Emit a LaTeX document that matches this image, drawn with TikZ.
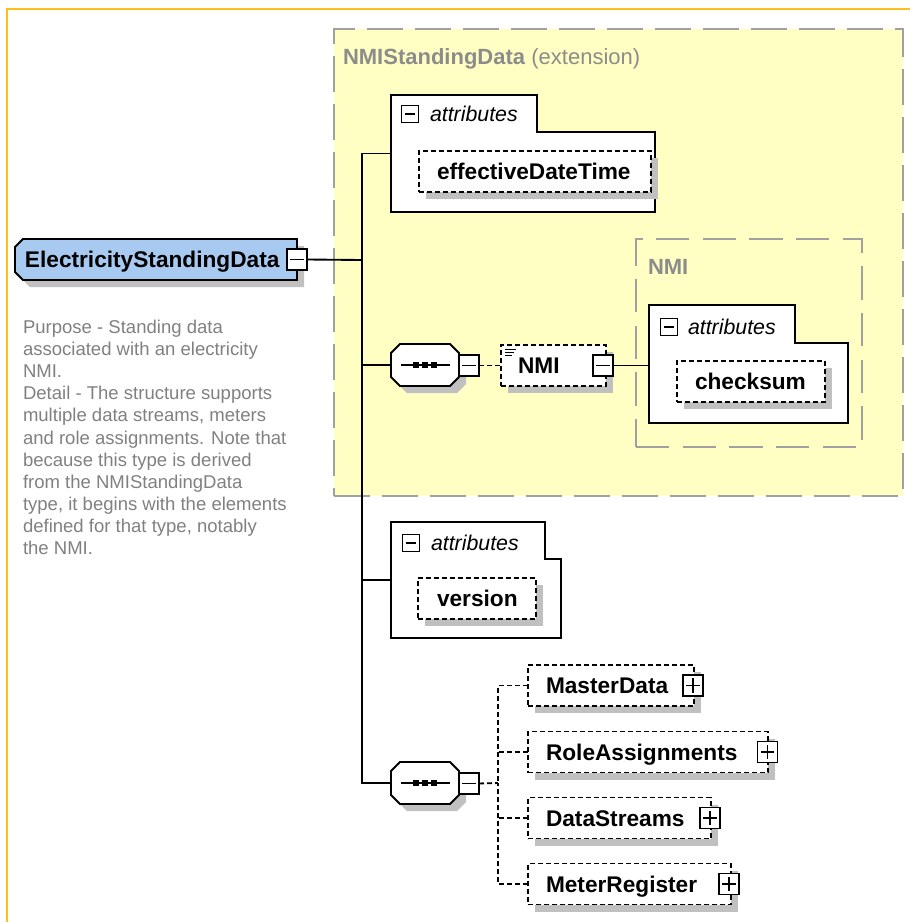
\documentclass[tikz,border=0pt]{standalone}
\usepackage{fontspec}
\setmainfont{Liberation Sans}
\definecolor{orng}{RGB}{255,190,30}
\definecolor{yel}{RGB}{255,255,195}
\definecolor{dgray}{RGB}{160,160,160}
\definecolor{shd}{RGB}{192,192,192}
\definecolor{bluefill}{RGB}{168,202,240}
\definecolor{txtgray}{RGB}{128,128,128}
\definecolor{ttlgray}{RGB}{140,140,140}
\newcommand\octpath[1]{([xshift=6.75pt]#1.north west) -- ([xshift=-6.75pt]#1.north east) -- ([yshift=-6.75pt]#1.north east) -- ([yshift=6.75pt]#1.south east) -- ([xshift=-6.75pt]#1.south east) -- ([xshift=6.75pt]#1.south west) -- ([yshift=6.75pt]#1.south west) -- ([yshift=-6.75pt]#1.north west) -- cycle}
\newcommand\seqdraw[1]{%
  \fill[shd, transform canvas={shift={(5.25pt,-5.25pt)}}] \octpath{#1};
  \draw[fill=white, line width=1.4pt] \octpath{#1};
  \draw[line width=1.3pt] ([xshift=7.5pt]#1.west) -- ([xshift=-6.75pt]#1.east);
  \foreach \dx in {-6.75pt,0pt,6.75pt} \fill ([xshift=\dx]#1.center) +(-2.1pt,-2.1pt) rectangle +(2.1pt,2.1pt);
}
\begin{document}
\begin{tikzpicture}[x=0.75pt,y=-0.75pt,
  sz/.style 2 args={minimum width=#1*0.75pt, minimum height=#2*0.75pt},
  plain/.style={inner sep=0pt, outer sep=0pt, draw=none},
  conn/.style={line width=1.4pt},
  dconn/.style={line width=1.4pt, dash pattern=on 3.75pt off 2.25pt},
  shadowed/.style={preaction={fill=shd, draw=none, transform canvas={shift={(5.25pt,-5.25pt)}}}},
  dbox/.style={draw, fill=white, line width=1.4pt, dash pattern=on 3.75pt off 2.25pt, inner sep=0pt, outer sep=0pt, shadowed},
  abox/.style={draw, fill=white, line width=1.5pt},
  extbox/.style={draw=dgray, fill=yel, line width=1.6pt, dash pattern=on 27pt off 9pt, inner sep=0pt, outer sep=0pt},
  grpbox/.style={draw=dgray, line width=1.6pt, dash pattern=on 25pt off 10pt, inner sep=0pt, outer sep=0pt},
  mbox/.style={draw, fill=white, line width=1.4pt, inner sep=0pt, outer sep=0pt, sz={20}{21},
    path picture={\draw[line width=1.4pt] ([xshift=2.5pt]path picture bounding box.west) -- ([xshift=-2.5pt]path picture bounding box.east);}},
  pbox/.style={mbox, path picture={\draw[line width=1.4pt] ([xshift=2.5pt]path picture bounding box.west) -- ([xshift=-2.5pt]path picture bounding box.east) ([yshift=2.5pt]path picture bounding box.south) -- ([yshift=-2.5pt]path picture bounding box.north);}},
  lbl/.style={inner sep=0pt, outer sep=0pt, anchor=west, font=\fontsize{17}{20}\selectfont\bfseries, text height=12.2pt, text depth=0pt},
  itl/.style={inner sep=0pt, outer sep=0pt, anchor=west, font=\fontsize{16}{19}\selectfont\itshape, text height=11.5pt, text depth=0pt},
  ttl/.style={inner sep=0pt, outer sep=0pt, anchor=west, text=ttlgray, font=\fontsize{16.5}{19}\selectfont, text height=11.8pt, text depth=0pt},
  desc/.style={inner sep=0pt, outer sep=0pt, anchor=north west, align=left, text=txtgray, font=\fontsize{13.9}{16.6}\selectfont}
]
\useasboundingbox (0,0) rectangle (910,922);
% frame
\draw[orng, line width=2.2pt] (7,922) -- (7,9) -- (910,9);
% extension area
\node[extbox, sz={569}{467}] (ext) at (618.5,262.5) {};
\node[ttl] (extt) at (343,57) {\textbf{NMIStandingData} (extension)};
\node[grpbox, sz={226}{208}] (nmig) at (749,343) {};
\node[ttl] (nmigt) at (648,267) {\textbf{NMI}};
% main element
\node[plain, sz={282}{41}] (esd) at (156,259.5) {};
\fill[shd, transform canvas={shift={(5.25pt,-5.25pt)}}] ([xshift=6pt]esd.north west) -- (esd.north east) -- (esd.south east) -- ([xshift=6pt]esd.south west) -- ([yshift=6pt]esd.south west) -- ([yshift=-6pt]esd.north west) -- cycle;
\draw[fill=bluefill, line width=1.4pt] ([xshift=6pt]esd.north west) -- (esd.north east) -- (esd.south east) -- ([xshift=6pt]esd.south west) -- ([yshift=6pt]esd.south west) -- ([yshift=-6pt]esd.north west) -- cycle;
\node[lbl] (esdt) at (25,259.5) {ElectricityStandingData};
\node[mbox] (esdm) at (esd.east) {};
\node[desc] (dsc) at (23,320) {Purpose - Standing data\\associated with an electricity\\NMI.\\Detail - The structure supports\\multiple data streams, meters\\and role assignments. Note that\\because this type is derived\\from the NMIStandingData\\type, it begins with the elements\\defined for that type, notably\\the NMI.};
\coordinate (j0) at (362,260);
% attributes 1
\node[plain, sz={264}{117}] (a1) at (523,153.5) {};
\draw[abox] (a1.south west) -- (a1.north west) -- ++(146,0) -- ++(0,37) -| (a1.south east) -- cycle;
\node[mbox, sz={17}{17}] (a1m) at (410,114) {};
\node[itl] (a1t) at (430,114) {attributes};
\node[dbox, sz={232}{41}] (edt) at (535,171.5) {};
\node[lbl] (edtt) at (437,171.5) {effectiveDateTime};
% sequence 1
\node[plain, sz={68}{42}] (s1) at (425,365) {};
\seqdraw{s1}
\node[mbox] (s1m) at (469,365.5) {};
\node[dbox, sz={105}{41}] (nmi) at (553.5,365.5) {};
\draw[line width=0.7pt] (505,349) -- (516,349) (505,352) -- (514,352) (505,355) -- (512,355);
\node[lbl] (nmit) at (518,365.5) {NMI};
\node[mbox] (nmim) at (603,365.5) {};
% NMI attributes
\node[plain, sz={199}{118}] (a3) at (748.5,364) {};
\draw[abox] (a3.south west) -- (a3.north west) -- ++(146,0) -- ++(0,38) -| (a3.south east) -- cycle;
\node[mbox, sz={17}{17}] (a3m) at (669,327) {};
\node[itl] (a3t) at (688,327) {attributes};
\node[dbox, sz={148}{41}] (cs) at (751,381.5) {};
\node[lbl] (cst) at (695,381.5) {checksum};
% attributes 2
\node[plain, sz={170}{116}] (a2) at (476,580) {};
\draw[abox] (a2.south west) -- (a2.north west) -- ++(154,0) -- ++(0,37) -| (a2.south east) -- cycle;
\node[mbox, sz={17}{17}] (a2m) at (411,543) {};
\node[itl] (a2t) at (431,543) {attributes};
\node[dbox, sz={118}{41}] (ver) at (477,598.5) {};
\node[lbl] (vert) at (437,598.5) {version};
% sequence 2
\node[plain, sz={68}{42}] (s2) at (425,783) {};
\seqdraw{s2}
\node[mbox] (s2m) at (469,783.5) {};
\coordinate (br) at (498,783);
\node[dbox, sz={166}{41}] (md) at (611,685.5) {};
\node[lbl] (mdt) at (546,685.5) {MasterData};
\node[pbox] (mdp) at ([xshift=-0.75pt]md.east) {};
\node[dbox, sz={240}{41}] (ra) at (648,752) {};
\node[lbl] (rat) at (546,752) {RoleAssignments};
\node[pbox] (rap) at ([xshift=-0.4pt]ra.east) {};
\node[dbox, sz={183}{41}] (ds) at (619.5,818) {};
\node[lbl] (dst) at (546,818) {DataStreams};
\node[pbox] (dsp) at ([xshift=-0.75pt]ds.east) {};
\node[dbox, sz={203}{41}] (mr) at (629.5,884) {};
\node[lbl] (mrt) at (546,884) {MeterRegister};
\node[pbox] (mrp) at ([xshift=-1.5pt]mr.east) {};
% connectors
\draw[conn] (esdm.east) -- (j0);
\draw[conn] (a1.west) -| (j0);
\draw[conn] (s2.west) -| (j0);
\draw[conn] (s1.west) -- (s1.west -| j0);
\draw[conn] (a2.west) -- (a2.west -| j0);
\draw[dconn] (s1m.east) -- (s1m.east -| nmi.west);
\draw[conn] (nmim.east) -- (nmim.east -| a3.west);
\draw[dconn] (s2m.east) -- (br);
\draw[dconn] (md.west) -| (br);
\draw[dconn] (mr.west) -| (br);
\draw[dconn] (ra.west) -- (ra.west -| br);
\draw[dconn] (ds.west) -- (ds.west -| br);
\end{tikzpicture}
\end{document}
